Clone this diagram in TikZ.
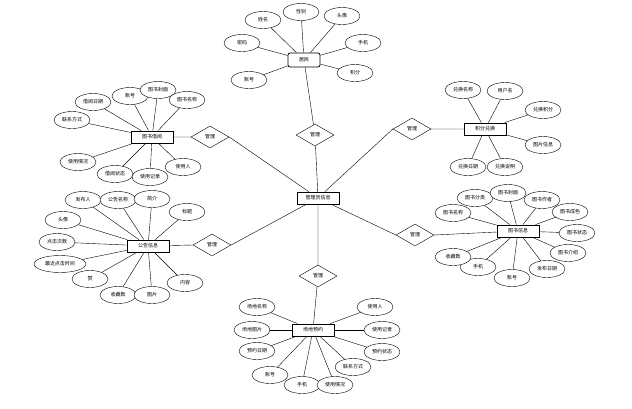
\documentclass[tikz,border=0pt]{standalone}
\usepackage{fontspec}
\setmainfont{Noto Sans CJK SC}
\usepackage{tikz}
\usetikzlibrary{shapes.geometric, positioning}
\tikzset{
    attrnode/.style={ellipse, draw, fill=white, minimum width=36pt, minimum height=17pt, inner sep=0.5pt, font=\fontsize{5}{6}\selectfont},
    entnode/.style={rectangle, draw, thick, fill=white, minimum width=42pt, minimum height=12pt, inner sep=1pt, font=\fontsize{5}{6}\selectfont},
    relnode/.style={diamond, draw, fill=white, aspect=1.7, minimum width=38pt, minimum height=22pt, inner sep=0pt, font=\fontsize{5}{6}\selectfont}
}

\begin{document}
\begin{tikzpicture}[x=1pt, y=-1pt]
    \useasboundingbox (0,0) rectangle (632,408);
    % entities and relations
    \node[entnode] (admin) at (318,198) {管理员信息};
    \node[entnode, rounded corners=2pt, minimum width=32pt, minimum height=14pt] (resident) at (304,60) {居民};
    \node[entnode] (borrow) at (152,137) {图书借阅};
    \node[entnode] (notice) at (148,246) {公告信息};
    \node[entnode] (venue) at (313,330) {场地预约};
    \node[entnode] (exchange) at (485,129) {积分兑换};
    \node[entnode] (book) at (518,231) {图书信息};
    \node[relnode] (r1) at (315,135) {管理};
    \node[relnode] (r2) at (210,137) {管理};
    \node[relnode] (r3) at (212,245) {管理};
    \node[relnode] (r4) at (318,276) {管理};
    \node[relnode] (r5) at (412,129) {管理};
    \node[relnode] (r6) at (415,235) {管理};
    \draw (resident) -- (r1) -- (admin);
    \draw (borrow) -- (r2.west) (r2.east) -- (admin);
    \draw (notice) -- (r3.west) (r3.east) -- (admin);
    \draw (admin) -- (r4) -- (venue);
    \draw (admin) -- (r5.west) (r5.east) -- (exchange);
    \draw (admin) -- (r6.west) (r6.east) -- (book);
    % 居民
    \foreach \name/\x/\y/\txt in {ra/249/80/账号, rb/242/43/密码, rc/263/20/姓名, rd/301/12/性别,
        re/342/16/头像, rf/363/43/手机, rg/355/73/积分}
    {
        \node[attrnode] (\name) at (\x,\y) {\txt};
        \draw (resident) -- (\name);
    }
    % 图书借阅
    \foreach \name/\x/\y/\txt in {ba/93/102/借阅日期, bb/130/96/账号, bc/158/90/图书封面, bd/187/100/图书名称,
        be/72/120/联系方式, bf/78/162/使用情况, bg/115/174/借阅状态, bh/150/177/使用记录, bi/183/167/使用人}
    {
        \node[attrnode] (\name) at (\x,\y) {\txt};
        \draw (borrow) -- (\name);
    }
    % 公告信息
    \foreach \name/\x/\y/\txt in {na/83/200/发布人, nb/118/200/公告名称, nc/152/199/简介, nd/187/212/标题,
        ne/63/220/头像, nf/57/242/点击次数, nh/90/279/赞, ni/118/295/收藏数, nj/152/295/图片, nk/185/283/内容}
    {
        \node[attrnode] (\name) at (\x,\y) {\txt};
        \draw (notice) -- (\name);
    }
    \node[attrnode, minimum width=52pt] (ng) at (60,264) {最近点击时间};
    \draw (notice) -- (ng);
    % 场地预约
    \foreach \name/\x/\y/\txt in {va/257/307/场地名称, vb/252/330/场地图片, vc/257/351/预约日期, vd/270/375/账号,
        ve/302/385/手机, vf/335/385/使用情况, vg/353/367/联系方式, vh/382/352/预约状态, vi/382/330/使用记录, vj/375/307/使用人}
    {
        \node[attrnode] (\name) at (\x,\y) {\txt};
        \draw (venue) -- (\name);
    }
    % 积分兑换
    \foreach \name/\x/\y/\txt in {ea/463/90/兑换名称, eb/505/91/用户名, ec/543/110/兑换积分,
        ed/543/145/图片信息, ee/468/167/兑换日期, ef/505/167/兑换说明}
    {
        \node[attrnode] (\name) at (\x,\y) {\txt};
        \draw (exchange) -- (\name);
    }
    % 图书信息
    \foreach \name/\x/\y/\txt in {ka/453/213/图书名称, kb/475/198/图书分类, kc/508/193/图书封面, kd/542/200/图书作者,
        ke/570/212/图书成色, kf/577/233/图书状态, kg/568/253/图书介绍, kh/547/269/发布日期,
        ki/512/278/账号, kj/478/267/手机, kk/453/257/收藏数}
    {
        \node[attrnode] (\name) at (\x,\y) {\txt};
        \draw (book) -- (\name);
    }
\end{tikzpicture}
\end{document}
